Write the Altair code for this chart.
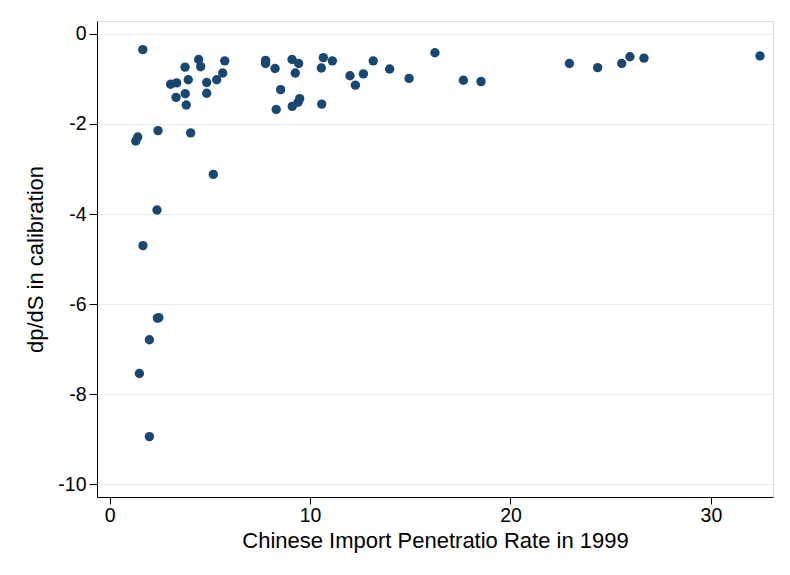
import altair as alt
import pandas as pd

rate = [1.65, 1.40, 1.30, 2.41, 4.04, 5.17, 2.36, 1.66,
        3.04, 3.34, 3.31, 3.77, 3.82, 3.76, 3.92, 4.44, 4.54, 4.84, 4.84, 5.34, 5.64, 5.74,
        7.78, 7.78, 8.25, 8.53, 8.31, 9.10, 9.43, 9.26, 9.11, 9.40, 9.48,
        10.56, 10.66, 10.58, 11.11, 11.99, 12.26, 12.66, 13.15, 13.97,
        14.94, 16.23, 17.65, 18.53, 22.94, 24.35, 25.55, 25.96, 26.66, 32.45,
        2.38, 2.45, 1.98, 1.48, 1.98]
dpds = [-0.35, -2.29, -2.38, -2.15, -2.20, -3.12, -3.91, -4.70,
        -1.12, -1.09, -1.41, -1.33, -1.58, -0.74, -1.02, -0.57, -0.73, -1.08, -1.32, -1.02, -0.87, -0.60,
        -0.59, -0.66, -0.77, -1.24, -1.68, -0.57, -0.66, -0.87, -1.61, -1.52, -1.44,
        -0.76, -0.53, -1.56, -0.60, -0.93, -1.14, -0.89, -0.60, -0.78,
        -0.99, -0.42, -1.03, -1.06, -0.66, -0.75, -0.66, -0.51, -0.54, -0.49,
        -6.31, -6.30, -6.79, -7.54, -8.94]

x_ticks = [0, 10, 20, 30]
y_ticks = [-10, -8, -6, -4, -2, 0]

df = pd.DataFrame({"rate": rate, "dpds": dpds})

FONT = "Liberation Sans"
LABEL_EXPR = "datum.value < 0 ? '-' + format(-datum.value, 'd') : format(datum.value, 'd')"

chart = alt.Chart(df).mark_circle(
    color="#1a476f", opacity=1, size=88
).encode(
    x=alt.X("rate:Q",
            scale=alt.Scale(domain=[-0.634, 33.1], nice=False, zero=False),
            axis=alt.Axis(values=x_ticks, grid=False, title="Chinese Import Penetratio Rate in 1999",
                          labelExpr=LABEL_EXPR,
                          tickSize=7, labelPadding=2, labelFontSize=19.5, titleFontSize=22,
                          titleFontWeight="normal", titleY=43, titleBaseline="middle",
                          domainColor="#000000", tickColor="#000000", labelColor="#000000",
                          titleColor="#000000", labelFont=FONT, titleFont=FONT)),
    y=alt.Y("dpds:Q",
            scale=alt.Scale(domain=[-10.28, 0.284], nice=False, zero=False),
            axis=alt.Axis(values=y_ticks, grid=True, gridColor="#e6eef1", gridWidth=1.2,
                          title="dp/dS in calibration",
                          labelExpr=LABEL_EXPR,
                          tickSize=8, labelPadding=3, labelFontSize=19.5, titleFontSize=22,
                          titleFontWeight="normal", titleX=-62, titleY=238, titleAngle=-90,
                          titleAlign="center", titleBaseline="middle",
                          domainColor="#000000", tickColor="#000000", labelColor="#000000",
                          titleColor="#000000", labelFont=FONT, titleFont=FONT)),
).properties(
    width=676, height=476,
    autosize=alt.AutoSizeParams(type="none"),
    padding={"left": 89, "top": 13, "right": 9, "bottom": 60},
).configure_view(stroke=None).configure(background="#ffffff")

chart.save("out.html", embed_options={"renderer": "svg", "actions": False})
